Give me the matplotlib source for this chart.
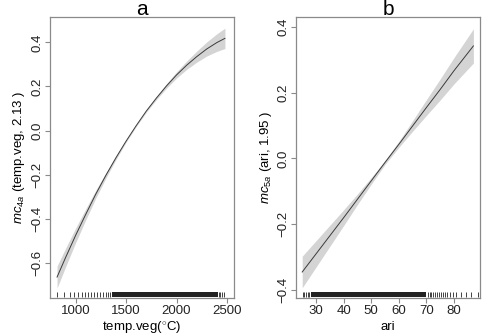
import numpy as np
import matplotlib.pyplot as plt

plt.rcParams['font.family'] = ['Liberation Sans', 'DejaVu Sans']
plt.rcParams['mathtext.fontset'] = 'custom'
plt.rcParams['mathtext.it'] = 'Liberation Sans:italic'
plt.rcParams['mathtext.rm'] = 'Liberation Sans'

# panel a: smooth of temp.veg
tv_x = [815, 900, 1000, 1100, 1200, 1300, 1400, 1500, 1600, 1700, 1800, 1900,
        2000, 2100, 2200, 2300, 2400, 2480]
tv_fit = [-0.665, -0.576, -0.475, -0.380, -0.288, -0.203, -0.123, -0.048, 0.022,
          0.088, 0.147, 0.202, 0.252, 0.296, 0.335, 0.370, 0.399, 0.418]
tv_se = [0.050, 0.042, 0.033, 0.025, 0.018, 0.012, 0.008, 0.005, 0.004, 0.005,
         0.007, 0.010, 0.014, 0.019, 0.025, 0.032, 0.040, 0.046]
tv_rug = [815, 880, 940, 980, 1020, 1060, 1090, 1120, 1150, 1180, 1210, 1240,
          1270, 1300, 1320, 1340, 2420, 2435, 2450, 2470]
tv_dense = (1360, 2410)

# panel b: smooth of ari
ari_x = [25, 30, 35, 40, 45, 50, 55, 60, 65, 70, 75, 80, 87]
ari_fit = [-0.345, -0.290, -0.235, -0.180, -0.124, -0.068, -0.012, 0.043, 0.099,
           0.155, 0.210, 0.267, 0.342]
ari_se = [0.048, 0.040, 0.032, 0.024, 0.016, 0.010, 0.006, 0.009, 0.016, 0.024,
          0.032, 0.040, 0.052]
ari_rug = [25.3, 25.8, 26.4, 27.0, 27.6, 70.5, 71.2, 71.8, 72.5, 73.1, 73.8, 74.6,
           75.3, 76.0, 76.8, 77.6, 78.5, 79.5, 80.7, 82.5, 84.3, 86.2, 88.6]
ari_dense = (28.2, 69.9)

panels = [
    dict(x=tv_x, fit=tv_fit, se=tv_se, rug=tv_rug, dense=tv_dense, title='a',
         xlim=(745, 2570), ylim=(-0.76, 0.515),
         xticks=[1000, 1500, 2000, 2500], yticks=[-0.6, -0.4, -0.2, 0.0, 0.2, 0.4],
         xlabel='temp.veg($^{\\circ}$C)',
         ylabel='$mc_{4a}$ (temp.veg, 2.13 )', ylab_x=-0.17,
         rect=[50 / 491, 38 / 336, 184 / 491, 281 / 336]),
    dict(x=ari_x, fit=ari_fit, se=ari_se, rug=ari_rug, dense=ari_dense, title='b',
         xlim=(22.75, 89.4), ylim=(-0.424, 0.43),
         xticks=[30, 40, 50, 60, 70, 80], yticks=[-0.4, -0.2, 0.0, 0.2, 0.4],
         xlabel='ari',
         ylabel='$mc_{5a}$ (ari, 1.95 )', ylab_x=-0.165,
         rect=[296 / 491, 38 / 336, 184 / 491, 281 / 336]),
]

fig = plt.figure(figsize=(4.91, 3.36), dpi=100)

for p in panels:
    ax = fig.add_axes(p['rect'])
    x = np.array(p['x'])
    fit = np.array(p['fit'])
    se = np.array(p['se'])
    ax.fill_between(x, fit - se, fit + se, color='#d4d4d4', lw=0)
    ax.plot(x, fit, color='#3a3a3a', lw=0.7)

    # rug along the bottom
    tr = ax.get_xaxis_transform()
    ax.vlines(p['rug'], 0.002, 0.022, transform=tr, color='#222222', lw=0.6)
    ax.axvspan(p['dense'][0], p['dense'][1], ymin=0.002, ymax=0.022,
               color='#222222', lw=0)

    ax.set_xlim(p['xlim'])
    ax.set_ylim(p['ylim'])
    ax.set_xticks(p['xticks'])
    ax.set_yticks(p['yticks'])
    ax.set_yticklabels([('%.1f' % v).replace('-', '\u2212') for v in p['yticks']],
                       rotation=90, va='center')
    for s in ax.spines.values():
        s.set_color('#8a8a8a')
        s.set_linewidth(0.9)
    ax.tick_params(colors='#8a8a8a', labelcolor='#222222', length=3.5, width=0.8,
                   labelsize=9.5, pad=1.5)
    ax.text(0.5, 1.008, p['title'], transform=ax.transAxes, fontsize=15,
            ha='center', va='baseline')
    ax.set_xlabel(p['xlabel'], fontsize=9.5, va='center')
    ax.xaxis.set_label_coords(0.5, -0.104)
    ax.set_ylabel(p['ylabel'], fontsize=9.5, va='center')
    ax.yaxis.set_label_coords(p['ylab_x'], 0.5)

fig.savefig('out.png', dpi=100)
